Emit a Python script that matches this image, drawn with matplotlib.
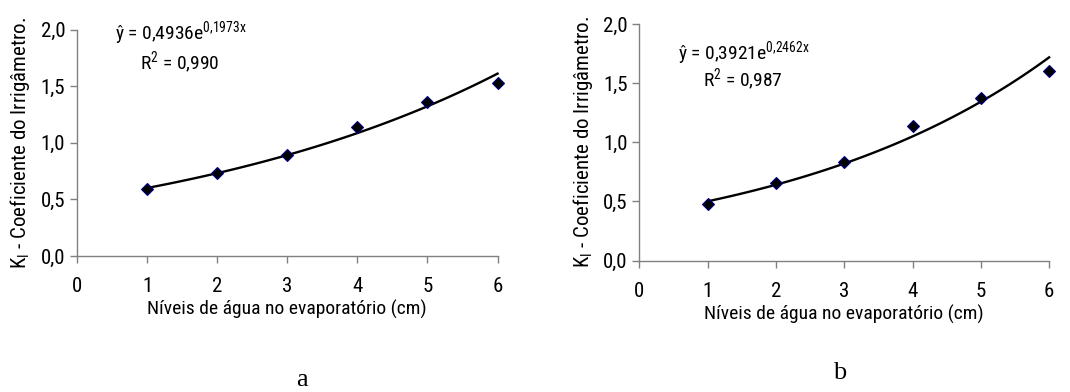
import numpy as np
import matplotlib.pyplot as plt

plt.rcParams['font.family'] = ['Roboto Condensed', 'Liberation Sans', 'DejaVu Sans']
plt.rcParams['mathtext.fontset'] = 'custom'
plt.rcParams['mathtext.rm'] = 'Roboto Condensed'
plt.rcParams['mathtext.it'] = 'Roboto Condensed'

# data
niveis = [1, 2, 3, 4, 5, 6]
ki_a = [0.59, 0.73, 0.89, 1.14, 1.36, 1.53]
ki_b = [0.48, 0.66, 0.83, 1.14, 1.37, 1.60]

# fitted exponential models (as printed on the chart)
coef_a = (0.4936, 0.1973)
coef_b = (0.3921, 0.2462)
eq_a = r"ŷ = 0,4936e$^{\mathrm{0{,}1973x}}$"
eq_b = r"ŷ = 0,3921e$^{\mathrm{0{,}2462x}}$"
r2_a = r"R$^{\mathrm{2}}$ = 0,990"
r2_b = r"R$^{\mathrm{2}}$ = 0,987"

ylabel = r"K$_{\mathrm{I}}$ - Coeficiente do Irrigâmetro."
xlabel = "Níveis de água no evaporatório (cm)"
yticks = [0.0, 0.5, 1.0, 1.5, 2.0]
yticklabels = ["0,0", "0,5", "1,0", "1,5", "2,0"]

fig = plt.figure(figsize=(10.7, 3.92), dpi=100)
ax_a = fig.add_axes([0.072, 0.347, 0.393, 0.577])
ax_b = fig.add_axes([0.5975, 0.335, 0.383, 0.604])

panels = [
    (ax_a, ki_a, coef_a, eq_a, r2_a, (115 / 1070, 1 - 33 / 392), (140 / 1070, 1 - 63 / 392), "a", (302 / 1070, 1 - 380 / 392)),
    (ax_b, ki_b, coef_b, eq_b, r2_b, (678 / 1070, 1 - 53 / 392), (703 / 1070, 1 - 80 / 392), "b", (840 / 1070, 1 - 373 / 392)),
]

for ax, ki, (a, b), eq, r2, eq_pos, r2_pos, letra, letra_pos in panels:
    xs = np.linspace(1, 6, 100)
    ax.plot(xs, a * np.exp(b * xs), color='black', linewidth=1.7, zorder=2, clip_on=False)
    ax.plot(niveis, ki, linestyle='none', marker='D', markersize=6.5, clip_on=False,
            markerfacecolor='black', markeredgecolor='#000080', markeredgewidth=0.8, zorder=3)
    ax.set_xlim(0, 6)
    ax.set_ylim(0, 2)
    ax.set_xticks(range(0, 7))
    ax.set_yticks(yticks)
    ax.set_yticklabels(yticklabels)
    for s in ['top', 'right']:
        ax.spines[s].set_visible(False)
    for s in ['left', 'bottom']:
        ax.spines[s].set_color('#808080')
        ax.spines[s].set_linewidth(1)
    ax.tick_params(axis='both', colors='#808080', labelcolor='black', labelsize=15, length=5, width=1)
    ax.tick_params(axis='x', pad=10)
    ax.set_xlabel(xlabel, fontsize=14, labelpad=3)
    ax.set_ylabel(ylabel, fontsize=15, labelpad=6)
    fig.text(eq_pos[0], eq_pos[1], eq, fontsize=14, ha='left', va='center')
    fig.text(r2_pos[0], r2_pos[1], r2, fontsize=14, ha='left', va='center')
    fig.text(letra_pos[0], letra_pos[1], letra, fontsize=19, family='Liberation Serif', ha='center', va='center')

fig.savefig('out.png', dpi=100)
